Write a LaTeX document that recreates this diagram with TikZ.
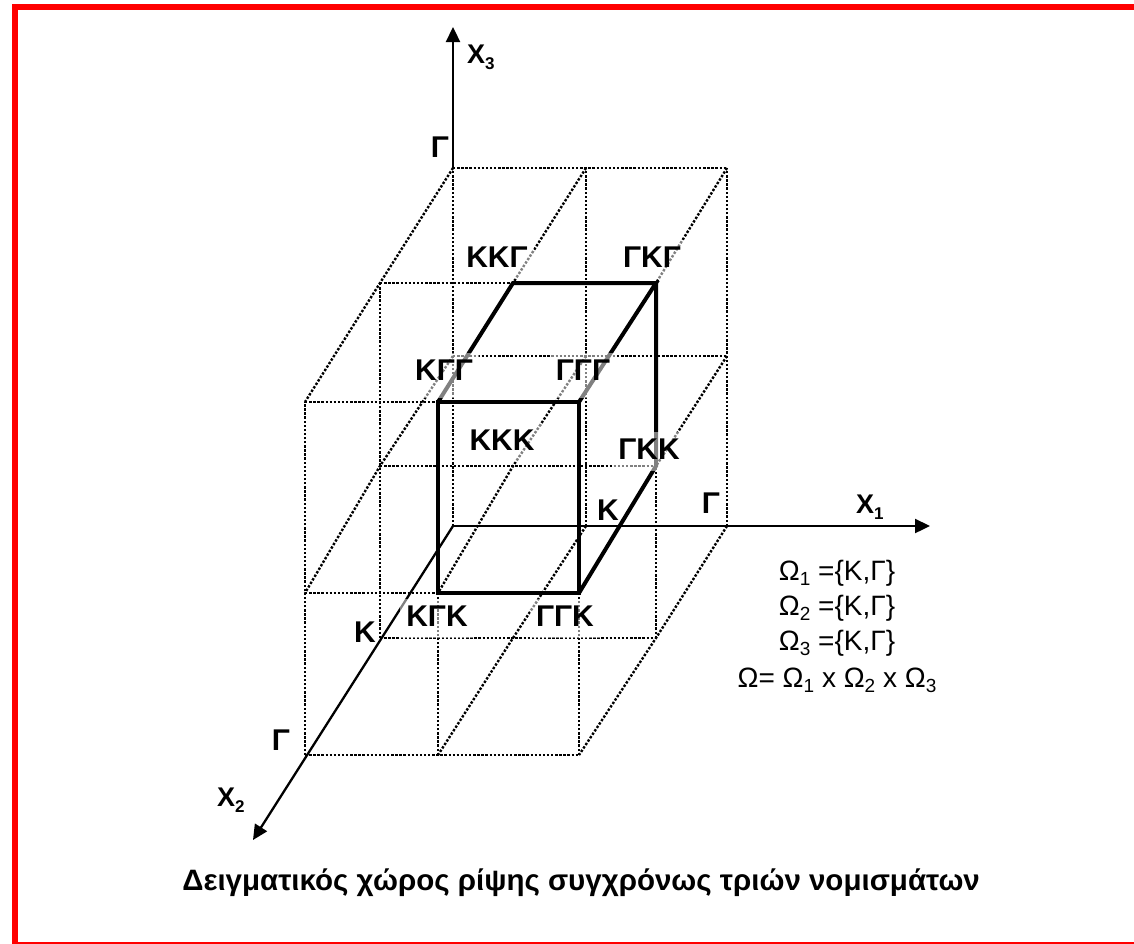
\documentclass[tikz,border=0pt]{standalone}
\usepackage{fontspec}
\setmainfont{Liberation Sans}
\usetikzlibrary{arrows.meta}
\newcommand\mysub[1]{\raisebox{-0.2em}{\fontsize{19}{19}\selectfont #1}}
\newcommand\axsub[1]{\raisebox{-0.25em}{\fontsize{17}{17}\selectfont #1}}
\begin{document}
\begin{tikzpicture}[x=1pt,y=-1pt,
  gridline/.style={line width=2.4pt, dash pattern=on 2.4pt off 1.7pt, black},
  cubeline/.style={line width=4pt, line join=miter, black},
  axisline/.style={line width=2.3pt, black, -{Triangle[length=15pt,width=14pt]}},
  cubelabel/.style={font=\fontsize{30}{36}\selectfont\bfseries, anchor=base, fill=white, fill opacity=0.5, text opacity=1, inner xsep=6pt, inner ysep=2pt, text height=25pt, text depth=10pt},
  deeplabel/.style={cubelabel, text depth=16pt},
  axislabel/.style={font=\fontsize{30}{36}\selectfont\bfseries, anchor=base, inner sep=0pt},
  axisname/.style={font=\fontsize{27}{32}\selectfont\bfseries, anchor=base west, inner sep=0pt},
  omegaline/.style={font=\fontsize{28}{34}\selectfont, anchor=base, inner sep=0pt},
  captionstyle/.style={font=\fontsize{29.5}{36}\selectfont\bfseries, anchor=base, inner sep=0pt}]
\useasboundingbox (0,0) rectangle (1134,943);
\clip (0,0) rectangle (1134,943);
\fill[white] (0,0) rectangle (1134,943);
% frame
\draw[red, line width=6pt] (15,7) rectangle (1140,945);
% lattice points p<i><j><k>
% layer j=0
\coordinate (p000) at (453,526); \coordinate (p100) at (586,526); \coordinate (p200) at (727,526);
\coordinate (p001) at (453,356); \coordinate (p101) at (586,356); \coordinate (p201) at (727,356);
\coordinate (p002) at (453,168); \coordinate (p102) at (586,168); \coordinate (p202) at (727,168);
% layer j=1
\coordinate (p010) at (380,638); \coordinate (p110) at (513,638); \coordinate (p210) at (656,638);
\coordinate (p011) at (380,466); \coordinate (p111) at (513,466); \coordinate (p211) at (656,466);
\coordinate (p012) at (380,283); \coordinate (p112) at (513,283); \coordinate (p212) at (656,283);
% layer j=2
\coordinate (p020) at (305,755); \coordinate (p120) at (438,755); \coordinate (p220) at (579,755);
\coordinate (p021) at (305,593); \coordinate (p121) at (438,593); \coordinate (p221) at (579,593);
\coordinate (p022) at (305,402); \coordinate (p122) at (438,402); \coordinate (p222) at (579,402);
% axis tips
\coordinate (x1tip) at (930,526);
\coordinate (x2tip) at (253,840);
\coordinate (x3tip) at (453,27);
% dotted lattice: x1 direction
\draw[gridline] (p001) -- (p101) -- (p201);
\draw[gridline] (p002) -- (p102) -- (p202);
\draw[gridline] (p010) -- (p110) -- (p210);
\draw[gridline] (p011) -- (p111) -- (p211);
\draw[gridline] (p012) -- (p112) -- (p212);
\draw[gridline] (p020) -- (p120) -- (p220);
\draw[gridline] (p021) -- (p121) -- (p221);
\draw[gridline] (p022) -- (p122) -- (p222);
% x3 direction
\draw[gridline] (p000) -- (p001) -- (p002);
\draw[gridline] (p100) -- (p101) -- (p102);
\draw[gridline] (p200) -- (p201) -- (p202);
\draw[gridline] (p010) -- (p011) -- (p012);
\draw[gridline] (p210) -- (p211) -- (p212);
\draw[gridline] (p020) -- (p021) -- (p022);
\draw[gridline] (p120) -- (p121) -- (p122);
\draw[gridline] (p220) -- (p221) -- (p222);
% x2 direction
\draw[gridline] (p100) -- (p110) -- (p120);
\draw[gridline] (p200) -- (p210) -- (p220);
\draw[gridline] (p001) -- (p011) -- (p021);
\draw[gridline] (p101) -- (p111) -- (p121);
\draw[gridline] (p201) -- (p211) -- (p221);
\draw[gridline] (p002) -- (p012) -- (p022);
\draw[gridline] (p102) -- (p112) -- (p122);
\draw[gridline] (p202) -- (p212) -- (p222);
% axes
\draw[axisline] (p000) -- (x1tip);
\draw[axisline] (p002) -- (x3tip);
\draw[axisline] (p000) -- (x2tip);
% bold cube
\draw[cubeline] (p122) -- (p222) -- (p221) -- (p121) -- cycle;
\draw[cubeline] (p122) -- (p112) -- (p212) -- (p222);
\draw[cubeline] (p212) -- (p211) -- (p221);
% cube labels
\node[cubelabel] (lkkg) at (497,267) {ΚΚΓ};
\node[cubelabel] (lgkg) at (652,267) {ΓΚΓ};
\node[deeplabel] (lkgg) at (444,380) {ΚΓΓ};
\node[deeplabel] (lggg) at (583,380) {ΓΓΓ};
\node[cubelabel] (lkkk) at (502,450) {ΚΚΚ};
\node[cubelabel] (lgkk) at (649,459) {ΓΚΚ};
\node[cubelabel] (lkgk) at (437,626) {ΚΓΚ};
\node[cubelabel] (lggk) at (565,626) {ΓΓΚ};
% axis value labels
\node[axislabel] (ax3g) at (440,157) {Γ};
\node[axislabel] (ax1k) at (608,520) {Κ};
\node[axislabel] (ax1g) at (711,513) {Γ};
\node[axislabel] (ax2k) at (365,642) {Κ};
\node[axislabel] (ax2g) at (281,750) {Γ};
% axis names
\node[axisname] (nx3) at (467,63) {X\axsub{3}};
\node[axisname] (nx1) at (856,513) {X\axsub{1}};
\node[axisname] (nx2) at (217,806) {X\axsub{2}};
% sample spaces
\node[omegaline] (om1) at (837,580) {Ω\mysub{1} =\{Κ,Γ\}};
\node[omegaline] (om2) at (837,615) {Ω\mysub{2} =\{Κ,Γ\}};
\node[omegaline] (om3) at (837,650) {Ω\mysub{3} =\{Κ,Γ\}};
\node[omegaline] (om) at (837,687) {Ω= Ω\mysub{1} x Ω\mysub{2} x Ω\mysub{3}};
% caption
\node[captionstyle] (cap) at (581,890) {Δειγματικός χώρος ρίψης συγχρόνως τριών νομισμάτων};
\end{tikzpicture}
\end{document}
